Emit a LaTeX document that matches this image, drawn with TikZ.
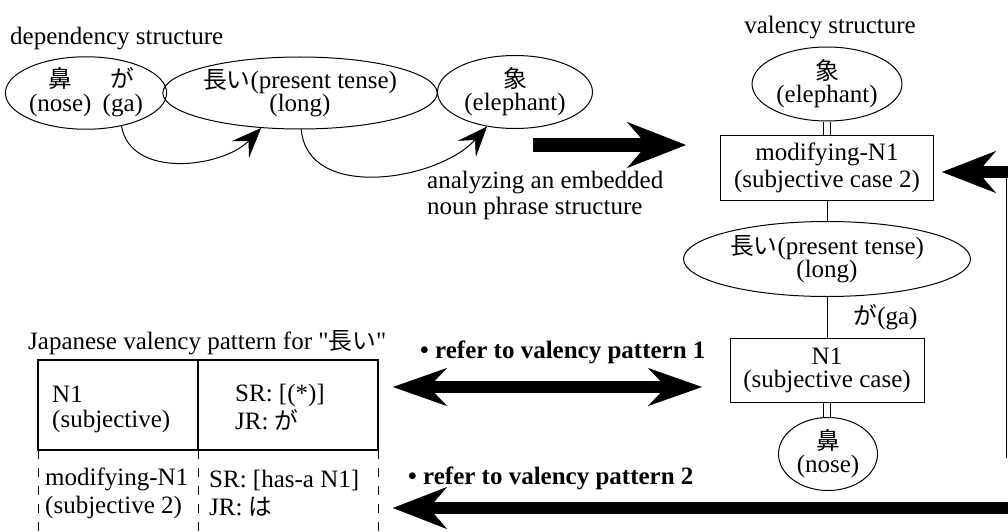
\documentclass[tikz,border=0pt]{standalone}
\usepackage{fontspec}
\setmainfont{Liberation Serif}
\newfontfamily\jp[Scale=0.95]{Noto Sans CJK JP}
\newfontfamily\qfont[Ligatures=TeXOff]{Liberation Serif}
\usepackage{tikz}
\usetikzlibrary{shapes.geometric,arrows.meta}

\tikzset{
  ell/.style={shape=ellipse, draw, line width=1pt, inner sep=0pt},
  box/.style={shape=rectangle, draw, line width=1pt, inner sep=0pt},
  thin/.style={line width=1pt},
  dbl/.style={double, double distance=6pt, line width=1pt},
  cell/.style={anchor=west, align=left, inner sep=0pt, font=\fontsize{25}{28}\selectfont},
  arc/.style={line width=1pt, -{Stealth[length=30pt,width=24pt,inset=12pt,line width=0.5pt]}},
  bigarrow/.style={line width=14pt, -{Stealth[length=59pt,width=46pt,inset=20pt,line width=0.5pt]}},
  backarrow/.style={line width=12pt, -{Stealth[length=54pt,width=42pt,inset=18pt,line width=0.5pt]}},
  twoarrow/.style={line width=12pt, {Stealth[length=54pt,width=38pt,inset=18pt,line width=0.5pt]}-{Stealth[length=54pt,width=38pt,inset=18pt,line width=0.5pt]}}
}

\begin{document}
\begin{tikzpicture}[x=1pt, y=-1pt, every node/.style={align=center, font=\fontsize{25}{23}\selectfont}]
\useasboundingbox (0,0) rectangle (1008,532);

% dependency structure
\node (t1) at (10,45) [anchor=base west, inner sep=0pt] {dependency structure};
\node (1) at (86,93) [ell, minimum width=155pt, minimum height=72pt] {\begin{tabular}{@{}c@{\hspace{0.45em}}c@{}}{\jp 鼻} & {\jp が}\\(nose) & (ga)\end{tabular}};
\node (2) at (300,93) [ell, minimum width=254pt, minimum height=72pt] {{\jp 長い}(present tense)\\(long)};
\node (3) at (515,92) [ell, minimum width=155pt, minimum height=73pt] {{\jp 象}\\(elephant)};

\draw [arc] (1.-43) to [out=-80, in=-134] (2.-138);
\draw [arc] (2.-88) to [out=-85, in=-132] (3.-129);

% analyzing
\coordinate (a1) at (533,145);
\coordinate (a2) at (686,145);
\draw [bigarrow] (a1) -- (a2);
\node (t2) at (427,195) [anchor=west, align=left, inner sep=0pt, font=\fontsize{25}{26}\selectfont] {analyzing an embedded\\noun phrase structure};

% valency structure
\node (t3) at (830,34) [anchor=base, inner sep=0pt] {valency structure};
\node (4) at (827,84) [ell, minimum width=150pt, minimum height=74pt] {{\jp 象}\\(elephant)};
\node (5) at (827,168) [box, minimum width=213pt, minimum height=65pt, font=\fontsize{25}{27}\selectfont] {modifying-N1\\(subjective case 2)};
\node (6) at (827,259) [ell, minimum width=287pt, minimum height=75pt] {{\jp 長い}(present tense)\\(long)};
\node (7) at (827,370) [box, minimum width=194pt, minimum height=64pt] {N1\\(subjective case)};
\node (8) at (828,454) [ell, minimum width=99pt, minimum height=73pt] {{\jp 鼻}\\(nose)};

\draw [dbl] (4.south) -- (4.south |- 5.north);
\draw [thin] (5.south) -- (5.south |- 6.north);
\draw [thin] (7.north |- 6.south) -- (7.north) node (g) [pos=0.5, anchor=west, xshift=26pt, inner sep=0pt] {{\jp が}(ga)};
\draw [dbl] (7.south) -- (7.south |- 8.north);

% back to modifying-N1
\coordinate (r1) at (1008,172);
\coordinate (r2) at (942,172);
\coordinate (r3) at (1006.5,172);
\coordinate (r4) at (1006.5,458);
\draw [backarrow] (r1) -- (r2);
\draw [thin] (r3) -- (r4);

% refer to valency patterns
\node (t5) at (420,352) [anchor=west, inner sep=0pt] {\textbf{• refer to valency pattern 1}};
\coordinate (d1) at (393,387);
\coordinate (d2) at (702,387);
\draw [twoarrow] (d1) -- (d2);

\node (t4) at (408,478) [anchor=west, inner sep=0pt] {\textbf{• refer to valency pattern 2}};
\coordinate (b1) at (1008,508);
\coordinate (b2) at (393,508);
\draw [backarrow] (b1) -- (b2);

% valency pattern table
\node (t6) at (28,343) [anchor=west, inner sep=0pt] {Japanese valency pattern for {\qfont"}{\jp 長い}{\qfont"}};
\draw [line width=1.3pt] (38,360) rectangle (378,450);
\draw [line width=1.3pt] (198,360) -- (198,450);
\draw [thin, dash pattern=on 9pt off 9pt] (38,450) -- (38,532);
\draw [thin, dash pattern=on 9pt off 9pt] (198,450) -- (198,532);
\draw [thin, dash pattern=on 9pt off 9pt] (378,450) -- (378,532);

\node (c1) at (52,409) [cell, font=\fontsize{25}{25}\selectfont] {N1\\(subjective)};
\node (c2) at (235,407) [cell] {SR: [(*)]\\JR: {\jp が}};
\node (c3) at (45,493) [cell] {modifying-N1\\(subjective 2)};
\node (c4) at (209,493) [cell] {SR: [has-a N1]\\JR: {\jp は}};

\end{tikzpicture}
\end{document}
